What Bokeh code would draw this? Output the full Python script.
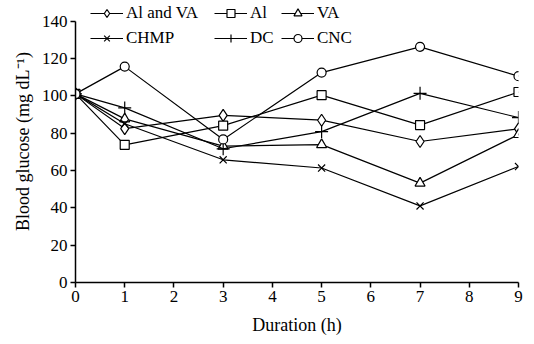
from bokeh.plotting import figure
from bokeh.models import Legend, LegendItem, FixedTicker, Range1d
from bokeh.embed import file_html
from bokeh.resources import INLINE

hours = [0, 1, 3, 5, 7, 9]
al_and_va = [101, 82.4, 89.5, 86.9, 75.5, 82.3]
al = [101, 73.7, 84, 100.3, 84.3, 102]
va = [101, 87.6, 73, 73.8, 53.2, 79.2]
chmp = [101, 85, 65.7, 61.3, 41, 62.1]
dc = [101, 93.5, 71.6, 80.8, 101.3, 88.3]
cnc = [101, 115.6, 76.6, 112.4, 126.2, 110.5]
x_ticks = list(range(0, 10))
y_ticks = list(range(0, 141, 20))

series = [
    ("Al and VA", al_and_va, "diamond", 12),
    ("Al", al, "square", 9),
    ("VA", va, "triangle", 10),
    ("CHMP", chmp, "x", 10),
    ("DC", dc, "cross", 13),
    ("CNC", cnc, "circle", 9),
]

FONT = "'Liberation Serif', serif"

p = figure(width=534, height=344, output_backend="svg", toolbar_location=None,
           x_range=Range1d(0, 9), y_range=Range1d(0, 151),
           min_border_left=75, min_border_right=16, min_border_top=0, min_border_bottom=62)
p.outline_line_color = None
p.grid.visible = False
p.background_fill_color = "white"

items = {}
for name, ys, marker, size in series:
    r1 = p.line(hours, ys, line_color="black", line_width=1.2)
    r2 = p.scatter(hours, ys, marker=marker, size=size, fill_color="white",
                   line_color="black", line_width=1.2)
    items[name] = LegendItem(label=name, renderers=[r1, r2])

columns = [(["Al and VA", "CHMP"], 15), (["Al", "DC"], 139), (["VA", "CNC"], 206)]
for names, xoff in columns:
    lg = Legend(items=[items[n] for n in names], orientation="vertical",
                location=(xoff, 234),
                background_fill_alpha=0, border_line_color=None,
                label_text_font=FONT, label_text_font_size="17px",
                label_text_color="black", label_height=20,
                glyph_width=33, glyph_height=20, spacing=5, label_standoff=3,
                padding=0, margin=0)
    p.add_layout(lg, "center")

for ax in (p.xaxis[0], p.yaxis[0]):
    ax.axis_line_width = 1.5
    ax.axis_line_color = "black"
    ax.major_tick_line_width = 1.5
    ax.major_tick_line_color = "black"
    ax.major_tick_out = 5
    ax.major_tick_in = 0
    ax.minor_tick_out = 0
    ax.minor_tick_in = 0
    ax.major_label_text_font = FONT
    ax.major_label_text_font_size = "17px"
    ax.major_label_text_color = "black"
    ax.axis_label_text_font = FONT
    ax.axis_label_text_font_size = "18px"
    ax.axis_label_text_font_style = "normal"
    ax.axis_label_text_color = "black"

p.xaxis.ticker = FixedTicker(ticks=x_ticks)
p.yaxis.ticker = FixedTicker(ticks=y_ticks)
p.yaxis.bounds = (0, 140)
p.xaxis.axis_label = "Duration (h)"
p.yaxis.axis_label = "Blood glucose (mg dL\u207b\u00b9)"
p.xaxis.major_label_standoff = 3
p.yaxis.major_label_standoff = 3
p.xaxis.axis_label_standoff = 10
p.yaxis.axis_label_standoff = 6

open("out.html", "w").write(file_html(p, INLINE))
